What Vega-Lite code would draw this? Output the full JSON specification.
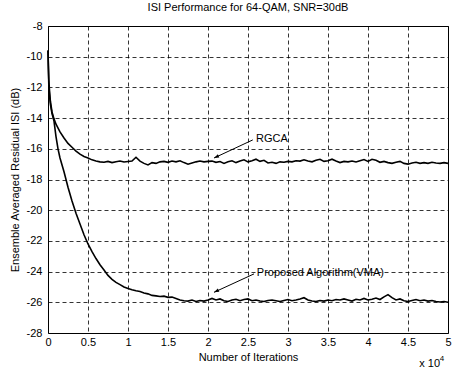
{
  "$schema": "https://vega.github.io/schema/vega-lite/v6.json",
  "width": 400,
  "height": 307,
  "autosize": {"type": "none"},
  "padding": {"left": 48, "top": 26, "right": 4, "bottom": 39},
  "background": "white",
  "title": {"text": "ISI Performance for 64-QAM, SNR=30dB", "font": "Liberation Sans", "fontSize": 11, "fontWeight": "normal", "color": "black", "offset": 7},
  "config": {
    "view": {"stroke": "black", "strokeWidth": 1},
    "axis": {"labelFont": "Liberation Sans", "titleFont": "Liberation Sans", "labelFontSize": 11, "titleFontSize": 11, "titleFontWeight": "normal", "labelColor": "black", "titleColor": "black", "domain": false, "ticks": false, "tickSize": 0, "grid": true, "gridColor": "black", "gridOpacity": 1, "gridDash": [4, 3], "gridWidth": 0.8, "tickCount": 10, "labelOverlap": false, "labelFlush": false, "labelExpr": "'' + datum.value"}
  },
  "datasets": {
    "curves": [
      {"series": "RGCA", "it": 0, "isi": -9.6}, {"series": "RGCA", "it": 0.005, "isi": -10.6}, {"series": "RGCA", "it": 0.01, "isi": -11.5}, {"series": "RGCA", "it": 0.02, "isi": -12.3}, {"series": "RGCA", "it": 0.03, "isi": -12.9}, {"series": "RGCA", "it": 0.05, "isi": -13.6}, {"series": "RGCA", "it": 0.075, "isi": -14.05}, {"series": "RGCA", "it": 0.1, "isi": -14.4}, {"series": "RGCA", "it": 0.15, "isi": -14.9}, {"series": "RGCA", "it": 0.2, "isi": -15.3}, {"series": "RGCA", "it": 0.25, "isi": -15.65}, {"series": "RGCA", "it": 0.3, "isi": -15.9}, {"series": "RGCA", "it": 0.35, "isi": -16.15}, {"series": "RGCA", "it": 0.4, "isi": -16.35}, {"series": "RGCA", "it": 0.45, "isi": -16.5}, {"series": "RGCA", "it": 0.5, "isi": -16.6}, {"series": "RGCA", "it": 0.55, "isi": -16.72}, {"series": "RGCA", "it": 0.6, "isi": -16.8}, {"series": "RGCA", "it": 0.65, "isi": -16.85},
      {"series": "RGCA", "it": 0.7, "isi": -16.88}, {"series": "RGCA", "it": 0.75, "isi": -16.82}, {"series": "RGCA", "it": 0.8, "isi": -16.9}, {"series": "RGCA", "it": 0.85, "isi": -16.84}, {"series": "RGCA", "it": 0.9, "isi": -16.8}, {"series": "RGCA", "it": 0.95, "isi": -16.86}, {"series": "RGCA", "it": 1.0, "isi": -16.83}, {"series": "RGCA", "it": 1.05, "isi": -16.8}, {"series": "RGCA", "it": 1.1, "isi": -16.55}, {"series": "RGCA", "it": 1.15, "isi": -16.8}, {"series": "RGCA", "it": 1.2, "isi": -16.95}, {"series": "RGCA", "it": 1.25, "isi": -17.05}, {"series": "RGCA", "it": 1.3, "isi": -16.9}, {"series": "RGCA", "it": 1.35, "isi": -16.95}, {"series": "RGCA", "it": 1.4, "isi": -16.85}, {"series": "RGCA", "it": 1.45, "isi": -16.82}, {"series": "RGCA", "it": 1.5, "isi": -16.88}, {"series": "RGCA", "it": 1.55, "isi": -16.8}, {"series": "RGCA", "it": 1.6, "isi": -16.85}, {"series": "RGCA", "it": 1.65, "isi": -16.78}, {"series": "RGCA", "it": 1.7, "isi": -16.9}, {"series": "RGCA", "it": 1.75, "isi": -17.0}, {"series": "RGCA", "it": 1.8, "isi": -16.92}, {"series": "RGCA", "it": 1.85, "isi": -16.85}, {"series": "RGCA", "it": 1.9, "isi": -16.8}, {"series": "RGCA", "it": 1.95, "isi": -16.85}, {"series": "RGCA", "it": 2.0, "isi": -16.82}, {"series": "RGCA", "it": 2.05, "isi": -16.8}, {"series": "RGCA", "it": 2.1, "isi": -16.88}, {"series": "RGCA", "it": 2.15, "isi": -16.83}, {"series": "RGCA", "it": 2.2, "isi": -16.95}, {"series": "RGCA", "it": 2.25, "isi": -16.85}, {"series": "RGCA", "it": 2.3, "isi": -16.78}, {"series": "RGCA", "it": 2.35, "isi": -16.9}, {"series": "RGCA", "it": 2.4, "isi": -16.8}, {"series": "RGCA", "it": 2.45, "isi": -16.72}, {"series": "RGCA", "it": 2.5, "isi": -16.85}, {"series": "RGCA", "it": 2.55, "isi": -16.78}, {"series": "RGCA", "it": 2.6, "isi": -16.68}, {"series": "RGCA", "it": 2.65, "isi": -16.82}, {"series": "RGCA", "it": 2.7, "isi": -16.75}, {"series": "RGCA", "it": 2.75, "isi": -16.92}, {"series": "RGCA", "it": 2.8, "isi": -16.88}, {"series": "RGCA", "it": 2.85, "isi": -16.95}, {"series": "RGCA", "it": 2.9, "isi": -16.85}, {"series": "RGCA", "it": 2.95, "isi": -16.88}, {"series": "RGCA", "it": 3.0, "isi": -16.82}, {"series": "RGCA", "it": 3.05, "isi": -16.85}, {"series": "RGCA", "it": 3.1, "isi": -16.78}, {"series": "RGCA", "it": 3.15, "isi": -16.8}, {"series": "RGCA", "it": 3.2, "isi": -16.72}, {"series": "RGCA", "it": 3.25, "isi": -16.8}, {"series": "RGCA", "it": 3.3, "isi": -16.85}, {"series": "RGCA", "it": 3.35, "isi": -16.75}, {"series": "RGCA", "it": 3.4, "isi": -16.68}, {"series": "RGCA", "it": 3.45, "isi": -16.82}, {"series": "RGCA", "it": 3.5, "isi": -16.78}, {"series": "RGCA", "it": 3.55, "isi": -16.68}, {"series": "RGCA", "it": 3.6, "isi": -16.8}, {"series": "RGCA", "it": 3.65, "isi": -16.9}, {"series": "RGCA", "it": 3.7, "isi": -16.82}, {"series": "RGCA", "it": 3.75, "isi": -16.85}, {"series": "RGCA", "it": 3.8, "isi": -16.8}, {"series": "RGCA", "it": 3.85, "isi": -16.86}, {"series": "RGCA", "it": 3.9, "isi": -16.78}, {"series": "RGCA", "it": 3.95, "isi": -16.7}, {"series": "RGCA", "it": 4.0, "isi": -16.82}, {"series": "RGCA", "it": 4.05, "isi": -16.68}, {"series": "RGCA", "it": 4.1, "isi": -16.75}, {"series": "RGCA", "it": 4.15, "isi": -16.88}, {"series": "RGCA", "it": 4.2, "isi": -16.82}, {"series": "RGCA", "it": 4.25, "isi": -16.9}, {"series": "RGCA", "it": 4.3, "isi": -16.95}, {"series": "RGCA", "it": 4.35, "isi": -16.88}, {"series": "RGCA", "it": 4.4, "isi": -16.82}, {"series": "RGCA", "it": 4.45, "isi": -16.95}, {"series": "RGCA", "it": 4.5, "isi": -17.0}, {"series": "RGCA", "it": 4.55, "isi": -16.92}, {"series": "RGCA", "it": 4.6, "isi": -16.88}, {"series": "RGCA", "it": 4.65, "isi": -16.95}, {"series": "RGCA", "it": 4.7, "isi": -16.9}, {"series": "RGCA", "it": 4.75, "isi": -16.95}, {"series": "RGCA", "it": 4.8, "isi": -16.88}, {"series": "RGCA", "it": 4.85, "isi": -16.92}, {"series": "RGCA", "it": 4.9, "isi": -16.95}, {"series": "RGCA", "it": 4.95, "isi": -16.9}, {"series": "RGCA", "it": 5.0, "isi": -16.95},
      {"series": "VMA", "it": 0, "isi": -9.6}, {"series": "VMA", "it": 0.005, "isi": -10.8}, {"series": "VMA", "it": 0.01, "isi": -11.8}, {"series": "VMA", "it": 0.02, "isi": -12.6}, {"series": "VMA", "it": 0.03, "isi": -13.1}, {"series": "VMA", "it": 0.05, "isi": -13.7}, {"series": "VMA", "it": 0.075, "isi": -14.2}, {"series": "VMA", "it": 0.1, "isi": -15.2}, {"series": "VMA", "it": 0.125, "isi": -16.0}, {"series": "VMA", "it": 0.15, "isi": -16.6}, {"series": "VMA", "it": 0.2, "isi": -17.5}, {"series": "VMA", "it": 0.25, "isi": -18.5}, {"series": "VMA", "it": 0.3, "isi": -19.4}, {"series": "VMA", "it": 0.35, "isi": -20.2}, {"series": "VMA", "it": 0.4, "isi": -20.9}, {"series": "VMA", "it": 0.45, "isi": -21.6}, {"series": "VMA", "it": 0.5, "isi": -22.2}, {"series": "VMA", "it": 0.55, "isi": -22.7}, {"series": "VMA", "it": 0.6, "isi": -23.15}, {"series": "VMA", "it": 0.65, "isi": -23.55}, {"series": "VMA", "it": 0.7, "isi": -23.9}, {"series": "VMA", "it": 0.75, "isi": -24.25}, {"series": "VMA", "it": 0.8, "isi": -24.5}, {"series": "VMA", "it": 0.85, "isi": -24.7}, {"series": "VMA", "it": 0.9, "isi": -24.85}, {"series": "VMA", "it": 0.95, "isi": -25.0}, {"series": "VMA", "it": 1.0, "isi": -25.1}, {"series": "VMA", "it": 1.05, "isi": -25.18}, {"series": "VMA", "it": 1.1, "isi": -25.25}, {"series": "VMA", "it": 1.15, "isi": -25.3}, {"series": "VMA", "it": 1.2, "isi": -25.4}, {"series": "VMA", "it": 1.25, "isi": -25.45}, {"series": "VMA", "it": 1.3, "isi": -25.55}, {"series": "VMA", "it": 1.35, "isi": -25.58}, {"series": "VMA", "it": 1.4, "isi": -25.62}, {"series": "VMA", "it": 1.45, "isi": -25.6}, {"series": "VMA", "it": 1.5, "isi": -25.68}, {"series": "VMA", "it": 1.55, "isi": -25.66}, {"series": "VMA", "it": 1.6, "isi": -25.75}, {"series": "VMA", "it": 1.65, "isi": -25.85}, {"series": "VMA", "it": 1.7, "isi": -25.9}, {"series": "VMA", "it": 1.75, "isi": -25.92}, {"series": "VMA", "it": 1.8, "isi": -25.85}, {"series": "VMA", "it": 1.85, "isi": -25.95}, {"series": "VMA", "it": 1.9, "isi": -25.88}, {"series": "VMA", "it": 1.95, "isi": -25.92}, {"series": "VMA", "it": 2.0, "isi": -25.85}, {"series": "VMA", "it": 2.05, "isi": -25.75}, {"series": "VMA", "it": 2.1, "isi": -25.85}, {"series": "VMA", "it": 2.15, "isi": -25.78}, {"series": "VMA", "it": 2.2, "isi": -25.9}, {"series": "VMA", "it": 2.25, "isi": -25.95}, {"series": "VMA", "it": 2.3, "isi": -25.85}, {"series": "VMA", "it": 2.35, "isi": -25.8}, {"series": "VMA", "it": 2.4, "isi": -25.9}, {"series": "VMA", "it": 2.45, "isi": -25.82}, {"series": "VMA", "it": 2.5, "isi": -25.78}, {"series": "VMA", "it": 2.55, "isi": -25.9}, {"series": "VMA", "it": 2.6, "isi": -25.85}, {"series": "VMA", "it": 2.65, "isi": -25.92}, {"series": "VMA", "it": 2.7, "isi": -25.95}, {"series": "VMA", "it": 2.75, "isi": -25.88}, {"series": "VMA", "it": 2.8, "isi": -25.85}, {"series": "VMA", "it": 2.85, "isi": -25.9}, {"series": "VMA", "it": 2.9, "isi": -25.95}, {"series": "VMA", "it": 2.95, "isi": -25.88}, {"series": "VMA", "it": 3.0, "isi": -25.82}, {"series": "VMA", "it": 3.05, "isi": -25.9}, {"series": "VMA", "it": 3.1, "isi": -25.85}, {"series": "VMA", "it": 3.15, "isi": -25.78}, {"series": "VMA", "it": 3.2, "isi": -25.7}, {"series": "VMA", "it": 3.25, "isi": -25.85}, {"series": "VMA", "it": 3.3, "isi": -25.92}, {"series": "VMA", "it": 3.35, "isi": -25.95}, {"series": "VMA", "it": 3.4, "isi": -25.88}, {"series": "VMA", "it": 3.45, "isi": -25.92}, {"series": "VMA", "it": 3.5, "isi": -25.85}, {"series": "VMA", "it": 3.55, "isi": -25.9}, {"series": "VMA", "it": 3.6, "isi": -25.82}, {"series": "VMA", "it": 3.65, "isi": -25.85}, {"series": "VMA", "it": 3.7, "isi": -25.78}, {"series": "VMA", "it": 3.75, "isi": -25.85}, {"series": "VMA", "it": 3.8, "isi": -25.92}, {"series": "VMA", "it": 3.85, "isi": -25.8}, {"series": "VMA", "it": 3.9, "isi": -25.85}, {"series": "VMA", "it": 3.95, "isi": -25.75}, {"series": "VMA", "it": 4.0, "isi": -25.85}, {"series": "VMA", "it": 4.05, "isi": -25.8}, {"series": "VMA", "it": 4.1, "isi": -25.72}, {"series": "VMA", "it": 4.15, "isi": -25.82}, {"series": "VMA", "it": 4.2, "isi": -25.65}, {"series": "VMA", "it": 4.25, "isi": -25.5}, {"series": "VMA", "it": 4.3, "isi": -25.7}, {"series": "VMA", "it": 4.35, "isi": -25.85}, {"series": "VMA", "it": 4.4, "isi": -25.78}, {"series": "VMA", "it": 4.45, "isi": -25.9}, {"series": "VMA", "it": 4.5, "isi": -25.95}, {"series": "VMA", "it": 4.55, "isi": -25.88}, {"series": "VMA", "it": 4.6, "isi": -25.82}, {"series": "VMA", "it": 4.65, "isi": -25.9}, {"series": "VMA", "it": 4.7, "isi": -25.85}, {"series": "VMA", "it": 4.75, "isi": -25.92}, {"series": "VMA", "it": 4.8, "isi": -25.88}, {"series": "VMA", "it": 4.85, "isi": -25.95}, {"series": "VMA", "it": 4.9, "isi": -25.98}, {"series": "VMA", "it": 4.95, "isi": -25.95}, {"series": "VMA", "it": 5.0, "isi": -26.0}
    ],
    "notes": [
      {"label": "RGCA", "tx": 2.6, "ty": -15.36, "x1": 2.56, "y1": -15.42, "x2": 2.075, "y2": -16.6},
      {"label": "Proposed Algorithm(VMA)", "tx": 2.61, "ty": -24.1, "x1": 2.575, "y1": -24.15, "x2": 2.075, "y2": -25.35}
    ],
    "exponent": [
      {"t": "x 10", "ex": 4.77, "ey": -30.05},
      {"t": "4", "ex": 4.925, "ey": -29.72}
    ]
  },
  "layer": [
    {
      "data": {"name": "curves"},
      "mark": {"type": "line", "color": "black", "strokeWidth": 1.6},
      "encoding": {
        "x": {"field": "it", "type": "quantitative", "scale": {"domain": [0, 5], "nice": false, "zero": false},
              "axis": {"title": "Number of Iterations", "labelPadding": 3, "titlePadding": 4}},
        "y": {"field": "isi", "type": "quantitative", "scale": {"domain": [-28, -8], "nice": false, "zero": false},
              "axis": {"title": "Ensemble Averaged Residual ISI (dB)", "labelPadding": 6, "titlePadding": 6}},
        "detail": {"field": "series"}
      }
    },
    {
      "data": {"name": "notes"},
      "mark": {"type": "rule", "color": "black", "strokeWidth": 1},
      "encoding": {
        "x": {"field": "x1", "type": "quantitative"},
        "y": {"field": "y1", "type": "quantitative"},
        "x2": {"field": "x2"},
        "y2": {"field": "y2"}
      }
    },
    {
      "data": {"name": "notes"},
      "mark": {"type": "point", "shape": "M0,0 L-0.45,1.3 L0.45,1.3 Z", "filled": true, "color": "black", "opacity": 1, "size": 60, "angle": 245},
      "encoding": {
        "x": {"field": "x2", "type": "quantitative"},
        "y": {"field": "y2", "type": "quantitative"}
      }
    },
    {
      "data": {"name": "notes"},
      "mark": {"type": "text", "align": "left", "baseline": "middle", "font": "Liberation Sans", "fontSize": 11, "color": "black"},
      "encoding": {
        "x": {"field": "tx", "type": "quantitative"},
        "y": {"field": "ty", "type": "quantitative"},
        "text": {"field": "label"}
      }
    },
    {
      "data": {"name": "exponent"},
      "mark": {"type": "text", "align": "center", "baseline": "middle", "font": "Liberation Sans", "color": "black"},
      "encoding": {
        "x": {"field": "ex", "type": "quantitative"},
        "y": {"field": "ey", "type": "quantitative"},
        "text": {"field": "t"},
        "size": {"condition": {"test": "datum.t === '4'", "value": 8}, "value": 11}
      }
    }
  ]
}
